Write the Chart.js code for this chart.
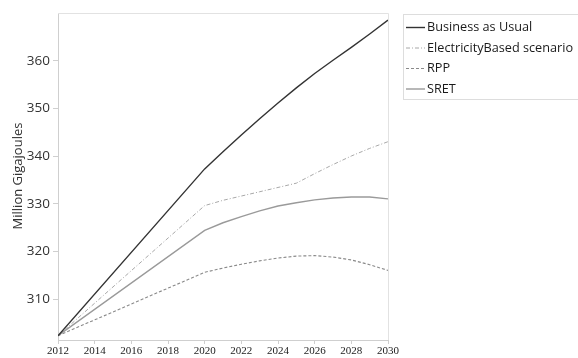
<!DOCTYPE html>
<html>
<head>
<meta charset="utf-8">
<script src="https://cdn.jsdelivr.net/npm/chart.js@4"></script>
<style>
  html, body { margin: 0; padding: 0; background: #fff; }
  #wrap { width: 578px; height: 358px; position: relative; }
</style>
</head>
<body>
<div id="wrap"><canvas id="energy"></canvas></div>
<script>
const years = [2012, 2020, 2021, 2022, 2023, 2024, 2025, 2026, 2027, 2028, 2029, 2030];

const businessAsUsual = [302.3, 337.3, 340.9, 344.4, 347.8, 351.1, 354.3, 357.3, 360.1, 362.8, 365.6, 368.5];
const electricityBased = [302.3, 329.6, 330.7, 331.6, 332.5, 333.4, 334.3, 336.3, 338.2, 340.0, 341.6, 343.0];
const rpp = [302.3, 315.6, 316.5, 317.3, 318.0, 318.6, 319.0, 319.1, 318.8, 318.2, 317.2, 316.0];
const sret = [302.3, 324.4, 326.0, 327.3, 328.5, 329.5, 330.2, 330.8, 331.2, 331.4, 331.4, 331.0];

const seriesNames = ["Business as Usual", "ElectricityBased scenario", "RPP", "SRET"];
const xTicks = [2012, 2014, 2016, 2018, 2020, 2022, 2024, 2026, 2028, 2030];
const yTicks = [310, 320, 330, 340, 350, 360];
const yTitle = "Million Gigajoules";

function points(values) {
  return values.map((v, i) => ({ x: years[i], y: v }));
}

const styles = [
  { color: "#333333", width: 1.4, dash: [] },
  { color: "#a8a8a8", width: 1, dash: [4, 2, 1, 2] },
  { color: "#8a8a8a", width: 1.1, dash: [3, 2] },
  { color: "#9a9a9a", width: 1.4, dash: [] }
];

const seriesValues = [businessAsUsual, electricityBased, rpp, sret];

const datasets = seriesValues.map((vals, i) => ({
  label: seriesNames[i],
  data: points(vals),
  borderColor: styles[i].color,
  borderWidth: styles[i].width,
  borderDash: styles[i].dash,
  pointRadius: 0,
  tension: 0,
  fill: false
}));

// plot frame, y title and the boxed legend on the right
const decorations = {
  id: "decorations",
  beforeDatasetsDraw(chart) {
    const { ctx, chartArea: a } = chart;
    ctx.save();
    ctx.strokeStyle = "#e2e2e2";
    ctx.lineWidth = 1;
    ctx.beginPath();
    ctx.moveTo(a.left, a.top + 0.5);
    ctx.lineTo(a.right + 0.5, a.top + 0.5);
    ctx.lineTo(a.right + 0.5, a.bottom);
    ctx.stroke();
    ctx.restore();
  },
  afterDraw(chart) {
    const ctx = chart.ctx;
    ctx.save();
    ctx.fillStyle = "#333";
    ctx.font = "13px 'Open Sans'";
    ctx.textAlign = "center";
    ctx.textBaseline = "middle";
    ctx.translate(18, 176);
    ctx.rotate(-Math.PI / 2);
    ctx.fillText(yTitle, 0, 0);
    ctx.restore();

    ctx.save();
    ctx.strokeStyle = "#dddddd";
    ctx.lineWidth = 1;
    ctx.strokeRect(403.5, 14.5, 200, 85);
    ctx.font = "12.7px 'Open Sans'";
    ctx.textBaseline = "middle";
    ctx.fillStyle = "#1a1a1a";
    seriesNames.forEach((name, i) => {
      const y = 27.5 + i * 20.5;
      ctx.beginPath();
      ctx.strokeStyle = styles[i].color;
      ctx.lineWidth = styles[i].width;
      ctx.setLineDash(styles[i].dash);
      ctx.moveTo(406, y);
      ctx.lineTo(425, y);
      ctx.stroke();
      ctx.setLineDash([]);
      ctx.fillText(name, 427, y);
    });
    ctx.restore();
  }
};

new Chart(document.getElementById("energy"), {
  type: "line",
  data: { datasets },
  options: {
    responsive: true,
    maintainAspectRatio: false,
    animation: false,
    layout: { padding: { top: 13, right: 190, left: 0, bottom: 0 } },
    plugins: { legend: { display: false }, tooltip: { enabled: false } },
    scales: {
      x: {
        type: "linear",
        min: 2012,
        max: 2030,
        afterBuildTicks: s => { s.ticks = xTicks.map(v => ({ value: v })); },
        afterFit: s => { s.height = 18; },
        border: { color: "#cfcfcf" },
        grid: { drawOnChartArea: false, tickLength: 4, color: "#cfcfcf" },
        ticks: {
          color: "#222",
          font: { family: "'Liberation Serif'", size: 11 },
          padding: 1,
          maxRotation: 0,
          callback: v => String(v)
        }
      },
      y: {
        min: 301.4,
        max: 370,
        afterBuildTicks: s => { s.ticks = yTicks.map(v => ({ value: v })); },
        afterFit: s => { s.width = 58; },
        border: { color: "#cfcfcf" },
        grid: { drawOnChartArea: false, tickLength: 5, color: "#cfcfcf" },
        ticks: {
          color: "#333",
          font: { family: "'Open Sans'", size: 13.5 },
          padding: 3
        }
      }
    }
  },
  plugins: [decorations]
});
</script>
</body>
</html>
